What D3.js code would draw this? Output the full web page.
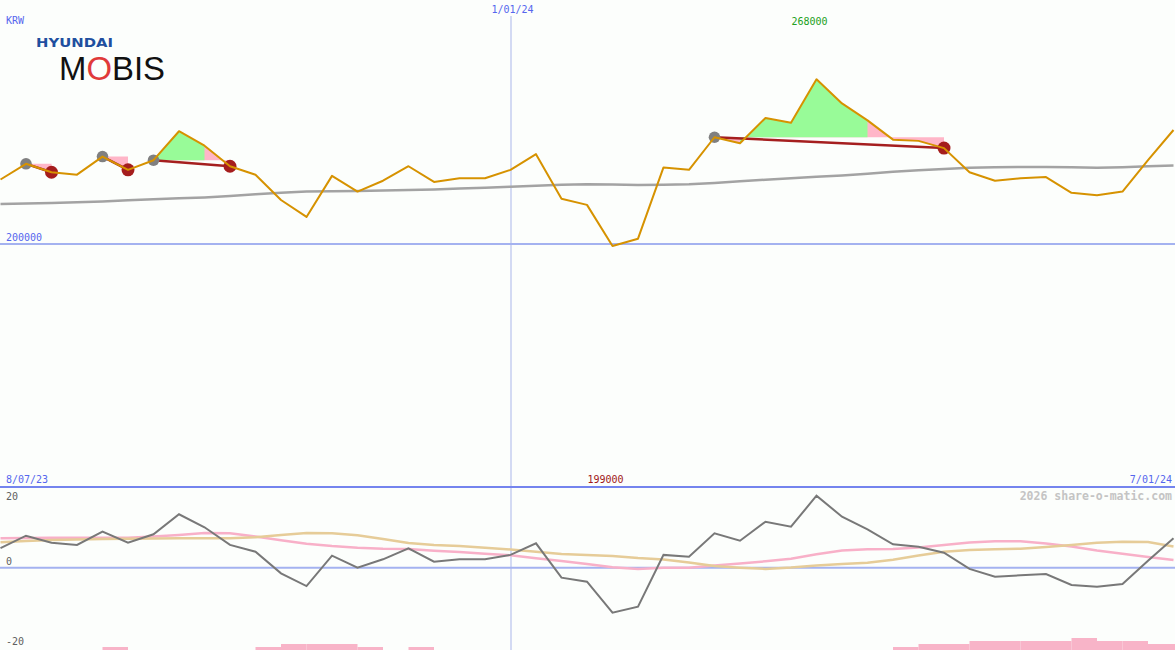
<!DOCTYPE html>
<html><head><meta charset="utf-8">
<script src="https://cdn.jsdelivr.net/npm/d3@7"></script>
<style>html,body{margin:0;padding:0;background:#fcfefc;} svg{display:block;}</style>
</head><body><svg id="c" width="1175" height="650"></svg>
<script>
const dates = ["2023-08-14","2023-08-21","2023-08-28","2023-09-04","2023-09-11","2023-09-18","2023-09-25","2023-10-02","2023-10-09","2023-10-16","2023-10-23","2023-10-30","2023-11-06","2023-11-13","2023-11-20","2023-11-27","2023-12-04","2023-12-11","2023-12-18","2023-12-25","2024-01-01","2024-01-08","2024-01-15","2024-01-22","2024-01-29","2024-02-05","2024-02-12","2024-02-19","2024-02-26","2024-03-04","2024-03-11","2024-03-18","2024-03-25","2024-04-01","2024-04-08","2024-04-15","2024-04-22","2024-04-29","2024-05-06","2024-05-13","2024-05-20","2024-05-27","2024-06-03","2024-06-10","2024-06-17","2024-06-24","2024-07-01"];
const closePrices = [226500,233000,229500,228500,236000,230500,234500,246500,240500,232000,228500,218000,211000,228000,221500,226000,232000,225500,227000,227000,230500,237000,218500,216000,199000,202000,231500,230500,244000,241500,252000,250000,268000,258000,251000,243000,242500,239500,229500,226000,227000,227500,221000,220000,221500,234500,247000];
const movingAvg = [216400,216600,216800,217100,217400,217900,218300,218700,219100,219700,220400,221000,221500,221600,221700,222000,222200,222400,222800,223100,223500,223900,224300,224500,224400,224200,224300,224500,225100,225800,226400,227000,227600,228200,228900,229700,230300,230900,231400,231600,231700,231700,231600,231400,231600,232000,232300];
const momentum = [4.9,8.0,6.25,5.7,9.0,6.25,8.35,13.35,10.1,5.7,4.0,-1.4,-4.6,3.0,0,2.1,4.85,1.5,2.1,2.1,3.2,6.1,-2.5,-3.5,-11.25,-9.75,3.2,2.75,8.6,6.75,11.5,10.25,18,12.75,9.6,5.85,5.25,3.75,-0.3,-2.25,-1.9,-1.6,-4.3,-4.75,-4.1,1.75,7.35];
const signalPink = [7.35,7.4,7.5,7.5,7.5,7.5,7.8,8.2,8.7,8.6,7.8,6.85,6.0,5.4,5.0,4.75,4.7,4.25,3.9,3.5,3.1,2.35,1.7,0.9,0.1,-0.3,0,0,0.55,1.05,1.6,2.25,3.35,4.3,4.6,4.7,5.05,5.7,6.3,6.6,6.6,6.05,5.3,4.3,3.5,2.7,1.9];
const signalTan = [6.35,6.7,6.9,7.05,7.2,7.25,7.3,7.35,7.35,7.35,7.6,8.2,8.7,8.6,8.1,7.2,6.2,5.7,5.4,5.0,4.55,4.0,3.45,3.2,2.9,2.4,2.05,1.3,0.4,0,-0.3,0.05,0.55,0.9,1.25,2.0,3.05,4.0,4.4,4.6,4.75,5.2,5.7,6.25,6.5,6.4,5.3];
const barLevels = [0,0,0,0,1,0,0,0,0,0,1,2,2,2,1,0,1,0,0,0,0,0,0,0,0,0,0,0,0,0,0,0,0,0,0,1,2,2,3,3,3,3,4,3,3,2,0];
const patternStart = [1,4,6,28];
const patternEnd = [2,5,9,37];
const greenFrom = [null,null,6,29];
const greenTo = [null,null,8,34];
const currencyLabel = "KRW";
const gridPrice = 200000;
const startLabel = "8/07/23";
const midLabel = "1/01/24";
const midDate = "2024-01-01";
const endLabel = "7/01/24";
const oscTicks = [20, 0, -20];
const watermark = "2026 share-o-matic.com";

const W = 1175, H = 650;
const svg = d3.select("#c");
const FONT = "'DejaVu Sans Mono', monospace";
const blueTxt = "#5566ee";

const x = d3.scalePoint().domain(dates).range([0.5, 1173.5]);
const yP = d3.scaleLinear().domain([200000, 268000]).range([243.5, 79.3]);
const yO = d3.scaleLinear().domain([20, -20]).range([487.7, 647.7]);
const yB = d3.scaleLinear().domain([0, 4]).range([650, 638]);

// bottom bars
svg.append("g").selectAll("rect").data(barLevels.map((v,i)=>({v,i})).filter(d=>d.v>0 && d.i<dates.length-1))
  .join("rect")
  .attr("x", d=>x(dates[d.i])).attr("width", d=>x(dates[d.i+1])-x(dates[d.i]) + (d.i===dates.length-2?2:0))
  .attr("y", d=>yB(d.v)).attr("height", d=>yB(0)-yB(d.v))
  .attr("fill", "#f8b4c8");

// vertical date line
svg.append("line").attr("x1", x(midDate)+0.5).attr("x2", x(midDate)+0.5).attr("y1", 16).attr("y2", H)
  .attr("stroke", "#aab6ea").attr("stroke-width", 1);

// grid line 200000
svg.append("line").attr("x1",0).attr("x2",W).attr("y1",yP(gridPrice)+0.5).attr("y2",yP(gridPrice)+0.5)
  .attr("stroke","#a4b2f0").attr("stroke-width",2);
// zero line
svg.append("line").attr("x1",0).attr("x2",W).attr("y1",yO(0)).attr("y2",yO(0))
  .attr("stroke","#a4b2f0").attr("stroke-width",2);

// pattern shading
const gShade = svg.append("g");
patternStart.forEach((s, k) => {
  const e = patternEnd[k];
  const level = closePrices[s];
  const idx = d3.range(s, e+1);
  const area = d3.area().x(i=>x(dates[i])).y0(yP(level)).y1(i=>yP(closePrices[i]));
  gShade.append("path").attr("d", area(idx)).attr("fill", "#ffb6c8");
  if (greenFrom[k] !== null) {
    gShade.append("path").attr("d", area(d3.range(greenFrom[k], greenTo[k]+1))).attr("fill", "#98fb98");
  }
});

// moving average
svg.append("path").datum(movingAvg).attr("fill","none").attr("stroke","#a3a3a3").attr("stroke-width",2.5)
  .attr("d", d3.line().x((d,i)=>x(dates[i])).y(d=>yP(d)));

// trend lines and dots
patternStart.forEach((s,k)=>{
  const e = patternEnd[k];
  svg.append("line").attr("x1",x(dates[s])).attr("y1",yP(closePrices[s])).attr("x2",x(dates[e])).attr("y2",yP(closePrices[e]))
    .attr("stroke","#a51f1f").attr("stroke-width",2.5);
});
patternStart.forEach((s,k)=>{
  const e = patternEnd[k];
  svg.append("circle").attr("cx",x(dates[s])).attr("cy",yP(closePrices[s])).attr("r",5.8).attr("fill","#808080");
  svg.append("circle").attr("cx",x(dates[e])).attr("cy",yP(closePrices[e])).attr("r",6.5).attr("fill","#a51d1d");
});

// price line
svg.append("path").datum(closePrices).attr("fill","none").attr("stroke","#d69200").attr("stroke-width",2)
  .attr("stroke-linejoin","round")
  .attr("d", d3.line().x((d,i)=>x(dates[i])).y(d=>yP(d)));

// oscillator lines
const lo = d3.line().x((d,i)=>x(dates[i])).y(d=>yO(d));
svg.append("path").datum(signalPink).attr("fill","none").attr("stroke","#f8b0c8").attr("stroke-width",2.5).attr("d", lo);
svg.append("path").datum(signalTan).attr("fill","none").attr("stroke","#e6cc98").attr("stroke-width",2.5).attr("d", lo);
svg.append("path").datum(momentum).attr("fill","none").attr("stroke","#787878").attr("stroke-width",2).attr("d", lo);

// separator
svg.append("line").attr("x1",0).attr("x2",W).attr("y1",487).attr("y2",487).attr("stroke","#7484ee").attr("stroke-width",2);

// texts
function txt(t, xx, yy, color, anchor, size, weight) {
  return svg.append("text").text(t).attr("x",xx).attr("y",yy).attr("fill",color)
    .attr("text-anchor",anchor||"start").attr("font-family",FONT).attr("font-size",size||10)
    .attr("font-weight",weight||"normal");
}
txt(currencyLabel, 6, 24, blueTxt);
txt(d3.format("d")(gridPrice), 6, 241, blueTxt);
txt(midLabel, x(midDate)+2, 13, blueTxt, "middle");
const iMax = d3.maxIndex(closePrices), iMin = d3.minIndex(closePrices);
txt(String(closePrices[iMax]), x(dates[iMax])-7, 25, "#22a022", "middle");
txt(String(closePrices[iMin]), x(dates[iMin])-7, 483, "#a01818", "middle");
txt(startLabel, 6, 483, blueTxt);
txt(endLabel, 1172, 483, blueTxt, "end");
txt(watermark, 1172, 500, "#c4c4c4", "end", 11.5, "bold");
oscTicks.forEach(v=>{
  const yy = v===20 ? 499.5 : yO(v) - 2.5;
  txt(String(v), 6, yy, "#606060");
});

// logo
svg.append("text").text("HYUNDAI").attr("x",36).attr("y",46.5).attr("fill","#1f4f9f")
  .attr("font-family","'DejaVu Sans', sans-serif").attr("font-weight","bold").attr("font-size",12.5)
  .attr("textLength",77).attr("lengthAdjust","spacingAndGlyphs");
const mob = svg.append("text").attr("x",59).attr("y",79.5).attr("fill","#111")
  .attr("font-family","'Liberation Sans', sans-serif").attr("font-size",33)
  .attr("textLength",106).attr("lengthAdjust","spacingAndGlyphs");
mob.append("tspan").text("M");
mob.append("tspan").text("O").attr("fill","#e03a3a");
mob.append("tspan").text("BIS");
</script></body></html>
